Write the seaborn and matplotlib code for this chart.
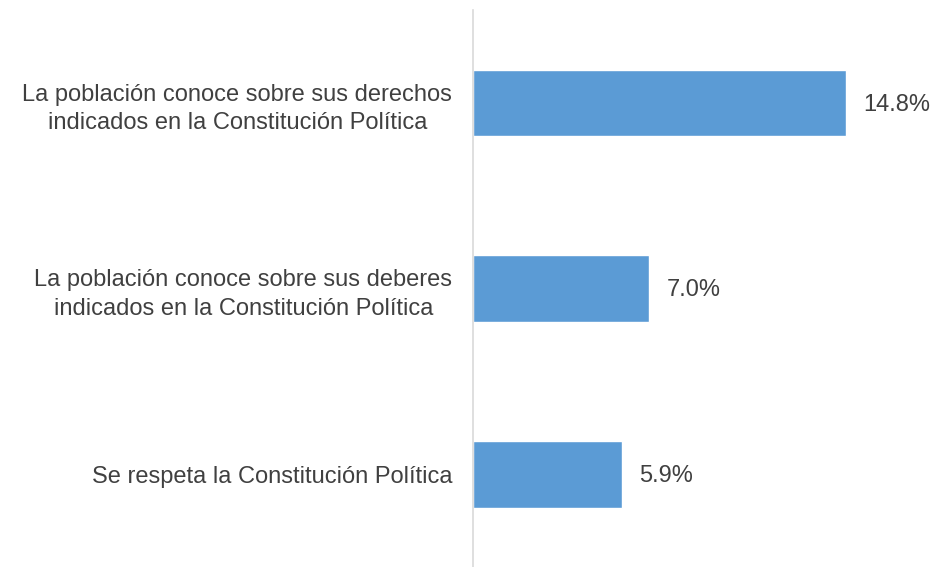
import matplotlib.pyplot as plt
import seaborn as sns
import pandas as pd

categories = [
    "La población conoce sobre sus derechos\nindicados en la Constitución Política",
    "La población conoce sobre sus deberes\nindicados en la Constitución Política",
    "Se respeta la Constitución Política",
]
values = [14.8, 7.0, 5.9]

df = pd.DataFrame({"cat": categories, "val": values})

sns.set_style("white")
plt.rcParams["font.family"] = ["Liberation Sans", "DejaVu Sans"]

fig = plt.figure(figsize=(9.33, 5.67), dpi=100)
ax = fig.add_axes([0.507, 0.0, 0.493, 0.982])

sns.barplot(data=df, x="val", y="cat", orient="h", color="#5B9BD5",
            saturation=1, width=0.36, ax=ax)

ax.set_xlim(0, 18.25)
ax.set_ylim(2.5, -0.5)
ax.set_xlabel("")
ax.set_ylabel("")
ax.set_xticks([])
for s in ["top", "right", "bottom"]:
    ax.spines[s].set_visible(False)
ax.spines["left"].set_color("#D9D9D9")
ax.spines["left"].set_linewidth(1.2)
ax.tick_params(axis="y", length=0, pad=15, labelsize=17, labelcolor="#404040")
for lbl in ax.get_yticklabels():
    lbl.set_horizontalalignment("right")
    lbl.set_multialignment("center")
    lbl.set_linespacing(1.4)

for i, v in enumerate(values):
    ax.text(v + 0.7, i + 0.01, f"{v:.1f}%", va="center", ha="left",
            fontsize=17, color="#404040")

fig.savefig("out.png", dpi=100)
